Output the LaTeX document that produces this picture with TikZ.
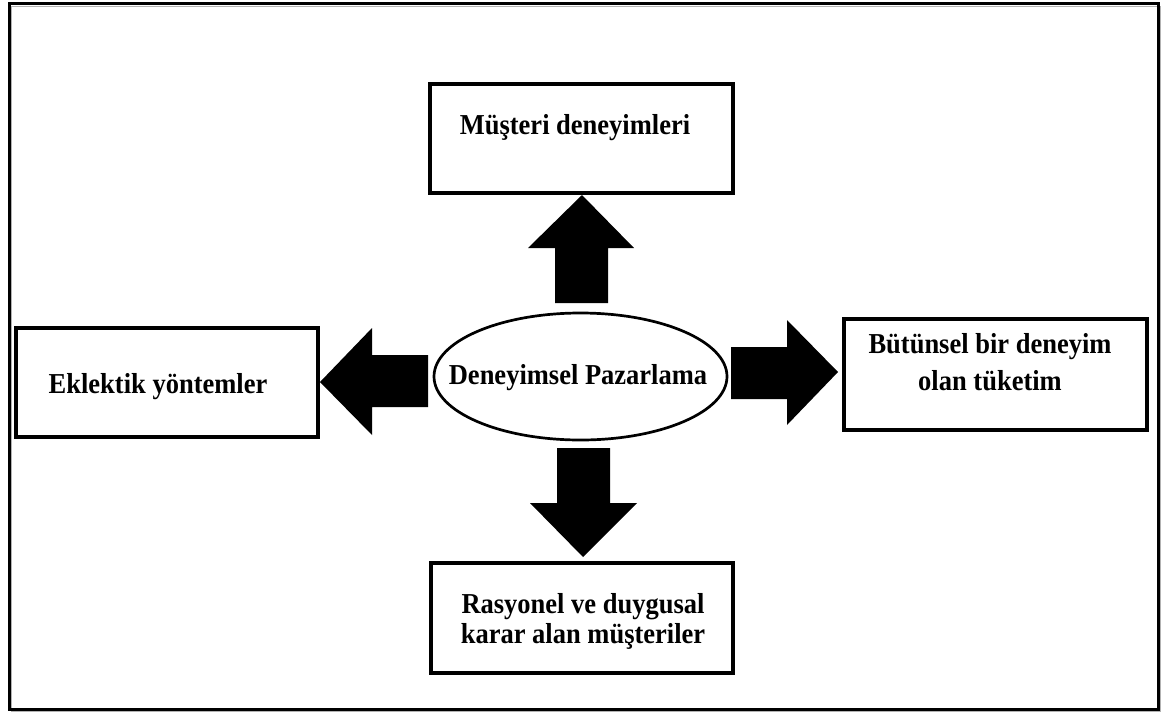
\documentclass[tikz,border=0pt]{standalone}
\usepackage{fontspec}
\setmainfont{Liberation Serif}
\usetikzlibrary{shapes.geometric}
\newcommand{\tall}[1]{\scalebox{1}[1.09]{#1}}
\begin{document}
\begin{tikzpicture}[x=1pt,y=-1pt,
  box/.style={draw=black,line width=3.2pt,rectangle,inner sep=0pt,outer sep=0pt},
  lbl/.style={anchor=base,inner sep=0pt,font=\bfseries\fontsize{26.5}{30}\selectfont},
  blockarrow/.style={fill=black,draw=none}]
\useasboundingbox (0,0) rectangle (1168,713);
\fill[white] (0,0) rectangle (1168,713);
% outer frame
\draw[gray!60,line width=1pt] (11,6) rectangle (1160,711);
\draw[black,line width=3pt] (9.5,3.5) rectangle (1158.5,709);
% boxes
\node[box,minimum width=303pt,minimum height=109pt] (top) at (581.5,138.5) {};
\node[box,minimum width=302pt,minimum height=109pt] (left) at (167,382.5) {};
\node[box,minimum width=303pt,minimum height=111pt] (right) at (995.5,374.5) {};
\node[box,minimum width=302pt,minimum height=110pt] (bottom) at (582,618) {};
\node[draw=black,line width=2.7pt,ellipse,minimum width=293pt,minimum height=127pt,inner sep=0pt] (center) at (580.5,376.5) {};
% labels
\node[lbl] (ttop) at (575,134) {\tall{Müşteri deneyimleri}};
\node[lbl] (tleft) at (158,393) {\tall{Eklektik yöntemler}};
\node[lbl] (tright1) at (990,353) {\tall{Bütünsel bir deneyim}};
\node[lbl] (tright2) at (990,390) {\tall{olan tüketim}};
\node[lbl] (tbot1) at (583,613) {\tall{Rasyonel ve duygusal}};
\node[lbl] (tbot2) at (583,643) {\tall{karar alan müşteriler}};
\node[lbl] (tcenter) at (578,384) {\tall{Deneyimsel Pazarlama}};
% block arrows
\fill[blockarrow] (555,303) -- (555,248) -- (528,248) -- (582,195) -- (634,248) -- (608,248) -- (608,303) -- cycle;
\fill[blockarrow] (428,355) -- (372,355) -- (372,328) -- (320,382) -- (372,435) -- (372,407) -- (428,407) -- cycle;
\fill[blockarrow] (731,347) -- (787,347) -- (787,320) -- (838,372) -- (787,425) -- (787,399) -- (731,399) -- cycle;
\fill[blockarrow] (557,448) -- (610,448) -- (610,503) -- (637,503) -- (583,557) -- (530,503) -- (557,503) -- cycle;
\end{tikzpicture}
\end{document}
